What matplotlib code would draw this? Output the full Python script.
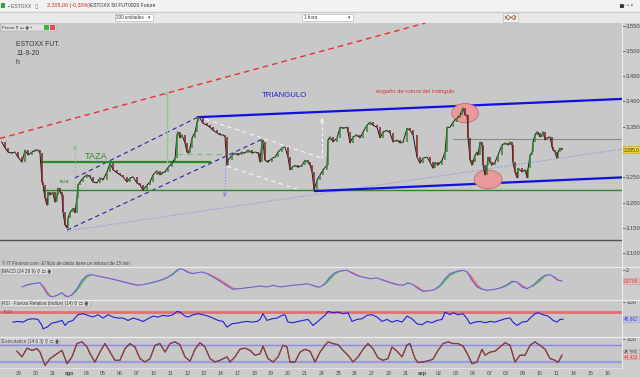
import matplotlib
matplotlib.use('Agg')
import matplotlib.pyplot as plt
import matplotlib.transforms as mtransforms
from matplotlib.patches import Ellipse, Rectangle
from matplotlib.ticker import FuncFormatter
import numpy as np

plt.rcParams['font.family'] = ['Liberation Sans', 'DejaVu Sans']

W, H = 640, 377

# sesiones (eje x en dias de sesion, 0 = 29 jul)
fechas = ['29', '30', '31', 'ago', '04', '05', '06', '07', '10', '11', '12', '13', '14',
          '17', '18', '19', '20', '21', '24', '25', '26', '27', '28', '31', 'sep', '02',
          '03', '04', '07', '08', '09', '10', '11', '14', '15', '16']

# cierres horarios aproximados del futuro
precio_t = [-1.03, -0.83, -0.65, -0.42, -0.24, -0.06, 0.18, 0.36, 0.54, 0.77,
            0.95, 1.13, 1.25, 1.37, 1.43, 1.55, 1.67, 1.73, 1.85, 2.02,
            2.14, 2.26, 2.32, 2.44, 2.56, 2.62, 2.74, 2.86, 2.92, 3.04,
            3.15, 3.21, 3.33, 3.45, 3.51, 3.63, 3.81, 4.05, 4.23, 4.40,
            4.64, 4.82, 5.00, 5.24, 5.42, 5.60, 5.83, 6.01, 6.19, 6.43,
            6.61, 6.79, 7.02, 7.20, 7.38, 7.62, 7.80, 7.98, 8.21, 8.39,
            8.51, 8.69, 8.87, 9.11, 9.29, 9.40, 9.46, 9.58, 9.70, 9.88,
            10.00, 10.06, 10.18, 10.30, 10.48, 10.60, 10.65, 10.77, 10.95, 11.19,
            11.37, 11.55, 11.79, 11.96, 12.14, 12.26, 12.38, 12.44, 12.68, 12.86,
            13.04, 13.27, 13.45, 13.63, 13.87, 14.05, 14.23, 14.35, 14.46, 14.52,
            14.64, 14.82, 15.06, 15.24, 15.42, 15.65, 15.83, 16.01, 16.13, 16.25,
            16.43, 16.61, 16.85, 17.02, 17.20, 17.32, 17.44, 17.56, 17.74, 17.92,
            18.10, 18.33, 18.39, 18.51, 18.69, 18.93, 19.11, 19.29, 19.52, 19.58,
            19.70, 19.88, 20.12, 20.30, 20.48, 20.71, 20.89, 21.07, 21.31, 21.49,
            21.67, 21.90, 22.08, 22.26, 22.50, 22.68, 22.86, 23.10, 23.27, 23.45,
            23.69, 23.87, 24.05, 24.29, 24.46, 24.64, 24.76, 24.94, 25.18, 25.36,
            25.48, 25.65, 25.83, 26.07, 26.25, 26.37, 26.43, 26.55, 26.67, 26.73,
            26.85, 26.96, 27.02, 27.14, 27.26, 27.32, 27.44, 27.56, 27.62, 27.74,
            27.86, 27.92, 28.04, 28.15, 28.33, 28.51, 28.75, 28.93, 29.11, 29.23,
            29.35, 29.40, 29.52, 29.64, 29.70, 29.94, 30.12, 30.24, 30.30, 30.42,
            30.54, 30.60, 30.71, 30.83, 30.89, 31.01, 31.13, 31.19, 31.31, 31.43,
            31.61, 31.73, 31.79, 31.90, 32.02, 32.08, 32.20, 32.32]
precio = [3320, 3308, 3300, 3298, 3300, 3290, 3280, 3304, 3294, 3300,
          3304, 3304, 3298, 3241, 3235, 3209, 3195, 3221, 3215, 3221,
          3201, 3215, 3229, 3221, 3215, 3181, 3156, 3150, 3170, 3181,
          3186, 3189, 3180, 3209, 3235, 3241, 3249, 3255, 3251, 3241,
          3239, 3249, 3245, 3261, 3278, 3265, 3259, 3255, 3251, 3241,
          3249, 3251, 3239, 3235, 3225, 3235, 3241, 3255, 3263, 3255,
          3259, 3261, 3270, 3278, 3288, 3334, 3340, 3328, 3334, 3318,
          3300, 3298, 3308, 3328, 3340, 3359, 3369, 3367, 3357, 3353,
          3349, 3343, 3338, 3334, 3334, 3330, 3274, 3284, 3294, 3298,
          3294, 3300, 3298, 3304, 3298, 3300, 3298, 3280, 3324, 3320,
          3284, 3280, 3288, 3290, 3300, 3308, 3310, 3290, 3265, 3270,
          3274, 3270, 3274, 3284, 3280, 3274, 3261, 3225, 3245, 3255,
          3265, 3274, 3324, 3330, 3320, 3328, 3349, 3347, 3349, 3340,
          3318, 3330, 3334, 3328, 3340, 3353, 3359, 3353, 3349, 3328,
          3340, 3343, 3338, 3320, 3324, 3318, 3320, 3347, 3343, 3334,
          3290, 3278, 3288, 3290, 3280, 3268, 3280, 3274, 3284, 3300,
          3349, 3349, 3359, 3367, 3373, 3383, 3387, 3373, 3373, 3328,
          3284, 3274, 3280, 3294, 3300, 3294, 3320, 3314, 3274, 3255,
          3274, 3290, 3280, 3274, 3280, 3294, 3314, 3318, 3314, 3320,
          3314, 3280, 3261, 3249, 3268, 3261, 3265, 3249, 3268, 3294,
          3300, 3320, 3334, 3340, 3338, 3330, 3334, 3340, 3324, 3328,
          3330, 3310, 3304, 3300, 3288, 3300, 3308, 3305]

# MACD (24 26 9) y su senal
macd_t = [0.18, 0.48, 0.83, 1.25, 1.43, 1.67, 1.85, 2.02, 2.26, 2.56,
          2.74, 2.92, 3.15, 3.45, 3.75, 4.05, 4.35, 4.64, 5.00, 5.42,
          5.83, 6.19, 6.61, 7.02, 7.38, 7.80, 8.21, 8.57, 8.87, 9.17,
          9.40, 9.58, 9.76, 10.00, 10.30, 10.60, 10.89, 11.19, 11.55, 11.96,
          12.38, 12.74, 13.15, 13.57, 13.93, 14.35, 14.76, 15.12, 15.54, 15.95,
          16.31, 16.73, 17.14, 17.44, 17.74, 17.92, 18.21, 18.51, 18.81, 19.11,
          19.52, 19.88, 20.18, 20.48, 20.89, 21.31, 21.67, 22.08, 22.50, 22.86,
          23.15, 23.45, 23.75, 24.05, 24.46, 24.76, 25.06, 25.36, 25.65, 26.07,
          26.43, 26.67, 26.96, 27.26, 27.56, 27.86, 28.21, 28.63, 29.05, 29.35,
          29.64, 29.94, 30.24, 30.60, 31.01, 31.31, 31.61, 31.90, 32.08, 32.32]
macd = [-0.97, -0.57, -0.39, -0.22, -0.97, -2.14, -2.59, -2.66, -2.41, -1.96,
        -2.54, -2.66, -2.31, -1.26, 0.20, 1.08, 1.18, 0.95, 0.73, 0.48,
        0.20, -0.09, -0.39, -0.67, -0.57, -0.27, 0.03, 0.38, 0.78, 1.35,
        1.95, 2.23, 2.12, 1.65, 1.35, 1.53, 1.65, 1.35, 0.78, 0.03,
        -0.79, -1.37, -1.26, -1.09, -0.97, -0.79, -0.97, -0.67, -0.97, -0.79,
        -0.67, -0.57, -0.39, -0.67, -0.97, -0.97, -0.39, 0.78, 1.53, 1.83,
        1.95, 1.35, 0.95, 0.73, 0.48, 0.60, 0.20, -0.22, -0.57, -0.67,
        -0.22, -0.57, -1.26, -1.72, -1.61, -1.37, -0.67, 0.48, 1.35, 1.77,
        1.95, 1.65, 0.20, -0.97, -1.37, -1.54, -1.44, -1.14, -0.57, 0.03,
        -0.09, -0.97, -1.26, -0.67, 0.48, 1.08, 1.18, 0.60, 0.20, 0.08]
senal = [-0.97, -0.77, -0.48, -0.31, -0.60, -1.56, -2.37, -2.63, -2.54, -2.19,
         -2.25, -2.60, -2.49, -1.79, -0.53, 0.64, 1.13, 1.07, 0.84, 0.61,
         0.34, 0.06, -0.24, -0.53, -0.62, -0.42, -0.12, 0.21, 0.58, 1.07,
         1.65, 2.09, 2.18, 1.89, 1.50, 1.44, 1.59, 1.50, 1.07, 0.41,
         -0.38, -1.08, -1.32, -1.18, -1.03, -0.88, -0.88, -0.82, -0.82, -0.88,
         -0.73, -0.62, -0.48, -0.53, -0.82, -0.97, -0.68, 0.20, 1.16, 1.68,
         1.89, 1.65, 1.15, 0.84, 0.61, 0.54, 0.40, -0.01, -0.40, -0.62,
         -0.45, -0.40, -0.92, -1.49, -1.67, -1.49, -1.02, -0.10, 0.92, 1.56,
         1.86, 1.80, 0.93, -0.39, -1.17, -1.46, -1.49, -1.29, -0.86, -0.27,
         -0.03, -0.53, -1.12, -0.97, -0.10, 0.78, 1.13, 0.89, 0.40, 0.14]

# RSI (14)
rsi_t = [-0.36, -0.06, 0.24, 0.54, 0.83, 1.13, 1.37, 1.43, 1.67, 1.96,
         2.26, 2.56, 2.74, 2.92, 3.21, 3.51, 3.81, 4.11, 4.40, 4.70,
         5.00, 5.30, 5.60, 5.89, 6.19, 6.49, 6.79, 7.08, 7.38, 7.68,
         7.98, 8.27, 8.57, 8.87, 9.17, 9.40, 9.58, 9.88, 10.06, 10.36,
         10.65, 10.95, 11.25, 11.55, 11.85, 12.14, 12.38, 12.68, 12.98, 13.27,
         13.57, 13.87, 14.17, 14.35, 14.52, 14.76, 15.06, 15.36, 15.65, 15.83,
         16.01, 16.31, 16.61, 16.90, 17.20, 17.50, 17.80, 17.92, 18.21, 18.39,
         18.69, 18.99, 19.29, 19.58, 19.82, 20.12, 20.42, 20.71, 21.01, 21.31,
         21.61, 21.90, 22.20, 22.50, 22.80, 23.10, 23.39, 23.69, 23.99, 24.29,
         24.58, 24.88, 25.18, 25.36, 25.65, 25.83, 26.13, 26.43, 26.67, 26.85,
         27.14, 27.44, 27.74, 28.04, 28.33, 28.63, 28.93, 29.23, 29.40, 29.64,
         29.94, 30.24, 30.42, 30.71, 30.89, 31.19, 31.49, 31.79, 32.02, 32.20,
         32.38]
rsi = [40, 42, 40, 48, 50, 48, 30, 20, 25, 37,
       40, 45, 30, 40, 45, 62, 65, 60, 55, 62,
       52, 62, 55, 52, 52, 45, 52, 48, 42, 50,
       58, 55, 60, 58, 62, 72, 70, 58, 55, 62,
       65, 62, 58, 52, 45, 42, 25, 35, 37, 40,
       42, 40, 42, 48, 65, 45, 50, 52, 60, 62,
       40, 38, 42, 45, 48, 30, 42, 48, 60, 72,
       68, 70, 65, 68, 42, 48, 50, 60, 62, 55,
       42, 48, 40, 45, 40, 58, 50, 35, 32, 42,
       38, 45, 48, 70, 62, 68, 62, 65, 50, 35,
       40, 42, 38, 42, 40, 45, 50, 52, 40, 30,
       40, 42, 52, 65, 68, 62, 58, 45, 40, 48,
       48.66]

# Estocastico (14 6 3)
esto_t = [-0.12, 0.18, 0.48, 0.77, 1.07, 1.25, 1.55, 1.85, 2.26, 2.56,
          2.86, 3.15, 3.45, 3.75, 4.05, 4.23, 4.52, 4.82, 5.12, 5.42,
          5.71, 6.01, 6.31, 6.61, 6.90, 7.20, 7.50, 7.80, 8.10, 8.39,
          8.69, 8.99, 9.29, 9.58, 9.88, 10.18, 10.48, 10.77, 11.07, 11.37,
          11.67, 11.96, 12.38, 12.56, 12.86, 13.15, 13.45, 13.75, 14.05, 14.35,
          14.52, 14.82, 15.12, 15.42, 15.71, 15.95, 16.13, 16.43, 16.73, 17.02,
          17.32, 17.62, 17.92, 18.21, 18.39, 18.69, 18.99, 19.29, 19.58, 19.88,
          20.18, 20.48, 20.77, 21.07, 21.37, 21.67, 21.96, 22.20, 22.50, 22.80,
          23.10, 23.27, 23.57, 23.75, 24.05, 24.46, 24.64, 24.94, 25.24, 25.54,
          25.83, 26.13, 26.43, 26.73, 26.96, 27.26, 27.56, 27.74, 28.04, 28.33,
          28.63, 28.93, 29.23, 29.52, 29.82, 30.12, 30.42, 30.71, 31.01, 31.31,
          31.61, 31.90, 32.08, 32.32]
esto = [58, 38, 69, 61, 67, 55, 8, 32, 49, 61,
        14, 38, 85, 91, 73, 49, 20, 55, 85, 55,
        26, 26, 67, 85, 73, 32, 20, 32, 79, 85,
        55, 85, 91, 81, 38, 23, 65, 88, 73, 32,
        20, 26, 38, 20, 38, 65, 69, 61, 44, 49,
        76, 32, 20, 38, 79, 73, 20, 20, 55, 65,
        58, 20, 55, 79, 91, 85, 81, 61, 44, 20,
        38, 65, 85, 67, 34, 26, 32, 73, 58, 38,
        81, 85, 32, 18, 20, 26, 30, 61, 85, 91,
        85, 85, 76, 44, 14, 20, 65, 44, 55, 58,
        73, 88, 79, 20, 44, 44, 79, 91, 79, 65,
        32, 26, 18, 44]


def caja(x0, y0, x1, y1):
    return [x0 / W, 1 - y1 / H, (x1 - x0) / W, (y1 - y0) / H]


def fx(x):
    return x / W


def fy(y):
    return 1 - y / H


fig = plt.figure(figsize=(W / 100, H / 100), dpi=100, facecolor='#cdcdcd')

ax_p = fig.add_axes(caja(0, 23, 622, 267))
ax_m = fig.add_axes(caja(0, 267, 622, 300), sharex=ax_p)
ax_r = fig.add_axes(caja(0, 300, 622, 337), sharex=ax_p)
ax_s = fig.add_axes(caja(0, 337, 622, 368), sharex=ax_p)

for ax in (ax_p, ax_m, ax_r, ax_s):
    ax.set_facecolor('#c8c8c8')
    for lado in ('top', 'bottom', 'left'):
        ax.spines[lado].set_visible(False)
    ax.spines['right'].set_color('#eeeeee')
    ax.spines['right'].set_linewidth(0.8)
    ax.yaxis.tick_right()
    ax.tick_params(axis='y', labelsize=4.2, colors='#444444', length=2, width=0.5, pad=1)
    ax.tick_params(axis='x', bottom=False, labelbottom=False)

ax_p.set_xlim(-1.13, 35.89)

# ---------- panel de precio ----------
ax_p.set_ylim(3073, 3555)
# el 3.300 queda tapado por la etiqueta del ultimo precio
ax_p.set_yticks([3100, 3150, 3200, 3250, 3350, 3400, 3450, 3500, 3550])
ax_p.yaxis.set_major_formatter(FuncFormatter(lambda v, _: f'{v:,.0f}'.replace(',', '.')))

t = np.array(precio_t)
p = np.array(precio)
ax_p.plot(t, p, color='#1c1c1c', lw=0.7, zorder=5)
sube = p[1:] >= p[:-1]
ax_p.vlines(t[1:][sube], p[:-1][sube], p[1:][sube], color='#2f8a2f', lw=1.1, zorder=6)
ax_p.vlines(t[1:][~sube], p[:-1][~sube], p[1:][~sube], color='#7a2424', lw=1.1, zorder=6)

# lineas dibujadas por el analista
ax_p.plot([-1.13, 24.2], [3327, 3555], color='#e83030', lw=1, dashes=(4, 3), zorder=3)
ax_p.plot([2.86, 14.52], [3146, 3326], color='#2222b0', lw=0.8, dashes=(4, 3), zorder=3)
ax_p.plot([3.33, 10.65], [3249, 3369], color='#2222b0', lw=0.8, dashes=(4, 3), zorder=3)
ax_p.plot([10.65, 35.89], [3369, 3405], color='#1010e0', lw=1.6, zorder=4)
ax_p.plot([17.62, 35.89], [3223, 3250], color='#1010e0', lw=1.6, zorder=4)
ax_p.plot([2.86, 35.89], [3144, 3306], color='#8a8aee', lw=0.8, ls=':', zorder=3)
ax_p.plot([10.65, 18.04], [3370, 3288], color='#f4f4f4', lw=0.8, dashes=(4, 3), zorder=3)
ax_p.plot([12.38, 16.55], [3272, 3227], color='#f4f4f4', lw=0.8, dashes=(4, 3), zorder=3)
ax_p.plot([1.45, 35.89], [3226, 3226], color='#2a8a2a', lw=1.0, zorder=3)
ax_p.plot([1.31, 11.37], [3281, 3281], color='#2a8a2a', lw=1.6, zorder=3)
ax_p.plot([9.40, 12.38], [3297, 3297], color='#88bb88', lw=1.0, dashes=(4, 3), zorder=3)
ax_p.plot([25.83, 35.89], [3325, 3325], color='#8a8a8a', lw=0.8, zorder=3)
ax_p.axhline(3126, color='#505050', lw=1, zorder=3)


def flecha(t0, p0, p1, color, ls, lw=0.8):
    ax_p.plot([t0, t0], [p0, p1], color=color, lw=lw, ls=ls, zorder=3)
    paso = 8 if p1 > p0 else -8
    ax_p.annotate('', xy=(t0, p1), xytext=(t0, p1 - paso),
                  arrowprops=dict(arrowstyle='->', color=color, lw=0.8,
                                  shrinkA=0, shrinkB=0, mutation_scale=5),
                  zorder=3)


flecha(8.79, 3281, 3419, '#94c894', '-', lw=1.0)
flecha(3.33, 3229, 3314, '#88c088', ':')
flecha(12.24, 3298, 3211, '#8a8aee', ':')
flecha(18.04, 3288, 3367, '#f4f4f4', (0, (3, 2)))

ax_p.add_patch(Ellipse((26.55, 3377), 1.59, 38, facecolor='#e89a9a',
                       edgecolor='#c86a6a', lw=0.6, zorder=4))
ax_p.add_patch(Ellipse((27.92, 3246), 1.65, 37, facecolor='#e89a9a',
                       edgecolor='#c86a6a', lw=0.6, zorder=4))

# textos del grafico
fig.text(fx(16), fy(44.5), 'ESTOXX FUT.', fontsize=4.9, color='#333333', va='center')
fig.text(fx(16), fy(53.5), '11-9-20', fontsize=4.9, color='#333333', va='center')
fig.text(fx(16), fy(62.5), 'h.', fontsize=4.9, color='#333333', va='center')
fig.text(fx(262), fy(95.5), 'TRIANGULO', fontsize=5.6, color='#2020c8', va='center')
fig.text(fx(376), fy(91.5), 'engaño de rotura del triángulo', fontsize=4.2,
         color='#e03030', va='center')
fig.text(fx(85), fy(156.5), 'TAZA', fontsize=6.6, color='#2e8b2e', va='center')
fig.text(fx(59), fy(182.5), 'TAZA', fontsize=3.2, color='#2e8b2e', va='center')
fig.text(fx(2), fy(263.5), '© IT Finance.com  El flujo de datos tiene un retraso de 15 min',
         fontsize=3.3, style='italic', color='#444444', va='center')

mezcla_p = mtransforms.blended_transform_factory(ax_p.transAxes, ax_p.transData)
ax_p.text(1.003, 3305, '3.305,0', transform=mezcla_p, fontsize=3.4, color='#333333',
          va='center', ha='left', clip_on=False, zorder=10,
          bbox=dict(boxstyle='square,pad=0.15', fc='#f0d23a', ec='#c8a400', lw=0.4))

# ---------- MACD ----------
ax_m.set_ylim(-3.24, 2.52)
ax_m.set_yticks([2])
ax_m.set_yticklabels(['2'])
mt = np.array(macd_t)
mv = np.array(macd)
sv = np.array(senal)
ax_m.fill_between(mt, sv, mv, where=mv >= sv, color='#5cbf5c', lw=0, interpolate=True)
ax_m.fill_between(mt, sv, mv, where=mv < sv, color='#e57272', lw=0, interpolate=True)
ax_m.plot(mt, mv, color='#7060e0', lw=0.8)
mezcla_m = mtransforms.blended_transform_factory(ax_m.transAxes, ax_m.transData)
ax_m.text(1.003, 0.08, '0,0788', transform=mezcla_m, fontsize=3.4, color='#c83030',
          va='center', ha='left', clip_on=False,
          bbox=dict(boxstyle='square,pad=0.15', fc='#e6c2c2', ec='#c89a9a', lw=0.4))
ax_m.text(0.004, 0.93, 'MACD (24 26 9) ⚲ ▭ ◉', transform=ax_m.transAxes, fontsize=3.3,
          color='#333333', va='top',
          bbox=dict(boxstyle='square,pad=0.2', fc='#dcdcdc', ec='#9a9a9a', lw=0.3))

# ---------- RSI ----------
ax_r.set_ylim(-4.5, 106)
ax_r.set_yticks([100])
ax_r.set_yticklabels(['100'])
ax_r.axhline(70, color='#e07070', lw=2, zorder=1)
ax_r.plot(rsi_t, rsi, color='#1f1fdc', lw=0.8)
mezcla_r = mtransforms.blended_transform_factory(ax_r.transAxes, ax_r.transData)
ax_r.text(1.003, 48.66, '48,662', transform=mezcla_r, fontsize=3.4, color='#3030c0',
          va='center', ha='left', clip_on=False,
          bbox=dict(boxstyle='square,pad=0.15', fc='#c8c8e6', ec='#9a9ac8', lw=0.4))
ax_r.text(0.004, 0.96, 'RSI - Fuerza Relativa (Indice) (14) ⚲ ▭ ◉', transform=ax_r.transAxes,
          fontsize=3.3, color='#333333', va='top',
          bbox=dict(boxstyle='square,pad=0.2', fc='#dcdcdc', ec='#9a9a9a', lw=0.3))
ax_r.text(0.004, 0.74, '70,00', transform=ax_r.transAxes, fontsize=2.8,
          color='#883333', va='top')

# ---------- Estocastico ----------
ax_s.set_ylim(-1.2, 108.2)
ax_s.set_yticks([100])
ax_s.set_yticklabels(['100'])
ax_s.axhline(80, color='#8a8ae6', lw=1, zorder=1)
ax_s.axhline(20, color='#9a9ae6', lw=1.6, zorder=1)
ax_s.plot(esto_t, esto, color='#4a1e1e', lw=0.9)
ax_s.plot(esto_t, esto, color='#c85050', lw=0.4)
mezcla_s = mtransforms.blended_transform_factory(ax_s.transAxes, ax_s.transData)
ax_s.text(1.003, 56, '45,580', transform=mezcla_s, fontsize=3.3, color='#333333',
          va='center', ha='left', clip_on=False,
          bbox=dict(boxstyle='square,pad=0.12', fc='#d8d8d8', ec='#a0a0a0', lw=0.4))
ax_s.text(1.003, 40, '44,433', transform=mezcla_s, fontsize=3.3, color='#c83030',
          va='center', ha='left', clip_on=False,
          bbox=dict(boxstyle='square,pad=0.12', fc='#e6c2c2', ec='#c89a9a', lw=0.4))
ax_s.text(0.004, 0.95, 'Estocástico (14 6 3) ⚲ ▭ ◉', transform=ax_s.transAxes,
          fontsize=3.3, color='#333333', va='top',
          bbox=dict(boxstyle='square,pad=0.2', fc='#dcdcdc', ec='#9a9a9a', lw=0.3))

ax_s.set_xticks(range(len(fechas)))
ax_s.set_xticklabels(fechas)
ax_s.tick_params(axis='x', labelbottom=True, labelsize=3.8, colors='#444444',
                 length=0, pad=2.5)
for etiqueta in ax_s.get_xticklabels():
    if etiqueta.get_text() in ('ago', 'sep'):
        etiqueta.set_fontweight('bold')

# separadores de paneles
for yy in (267, 300, 337):
    fig.add_artist(plt.Line2D([0, 1], [fy(yy), fy(yy)], color='#ececec', lw=0.9))
fig.add_artist(plt.Line2D([0, fx(622)], [fy(368), fy(368)], color='#e4e4e4', lw=0.6))

# ---------- cabecera de la aplicacion ----------
fig.add_artist(Rectangle((0, fy(11)), 1, 11 / H, transform=fig.transFigure,
                         fc='#f2f2f2', ec='none'))
fig.add_artist(Rectangle((0, fy(23)), 1, 12 / H, transform=fig.transFigure,
                         fc='#e8e8e8', ec='none'))
fig.add_artist(plt.Line2D([0, 1], [fy(11.5), fy(11.5)], color='#c4c4c4', lw=0.5))
fig.add_artist(Rectangle((fx(1), fy(8)), 4 / W, 5 / H, transform=fig.transFigure,
                         fc='#3fa03f', ec='none'))
fig.text(fx(8), fy(5.5), '▪ ESTOXX   ▯', fontsize=3.6, color='#555555', va='center')
fig.text(fx(47), fy(5.5), '3.305,00 (-0,30%)', fontsize=3.8, color='#d02020', va='center')
fig.text(fx(90), fy(5.5), 'ESTOXX 50 FUT0920 Future', fontsize=3.6, color='#333333',
         va='center')
fig.text(fx(619), fy(5.5), '▆ - ▫ ×', fontsize=3.6, color='#333333', va='center')
for x0, x1, rotulo in ((115, 153, '200 unidades'), (302, 353, '1 hora')):
    fig.add_artist(Rectangle((fx(x0), fy(21)), (x1 - x0) / W, 7 / H,
                             transform=fig.transFigure, fc='#ffffff', ec='#a8a8a8', lw=0.4))
    fig.text(fx(x0 + 1.5), fy(17.5), rotulo, fontsize=3.3, color='#333333', va='center')
    fig.text(fx(x1 - 5), fy(17.5), '▾', fontsize=3.3, color='#333333', va='center')
# icono del tipo de grafico
fig.add_artist(Rectangle((fx(503), fy(22)), 15 / W, 9 / H, transform=fig.transFigure,
                         fc='#f4f4f4', ec='#a8a8a8', lw=0.4))
fig.add_artist(plt.Line2D([fx(505), fx(508), fx(511), fx(514), fx(516)],
                          [fy(19), fy(15), fy(18), fy(15), fy(19)], color='#40a040', lw=0.6))
fig.add_artist(plt.Line2D([fx(505), fx(508), fx(511), fx(514), fx(516)],
                          [fy(16), fy(20), fy(17), fy(20), fy(16)], color='#d04040', lw=0.6))
fig.add_artist(Rectangle((fx(1), fy(31)), 55 / W, 7 / H, transform=fig.transFigure,
                         fc='#e0e0e0', ec='#a8a8a8', lw=0.3))
fig.text(fx(2.5), fy(27.5), 'Precio ⚲ ▭ ◉ ▪', fontsize=3.2, color='#333333', va='center')
fig.add_artist(Rectangle((fx(44), fy(30)), 5 / W, 5 / H, transform=fig.transFigure,
                         fc='#40b040', ec='none'))
fig.add_artist(Rectangle((fx(50), fy(30)), 5 / W, 5 / H, transform=fig.transFigure,
                         fc='#e05050', ec='none'))

fig.savefig('out.png', dpi=100, facecolor=fig.get_facecolor())
